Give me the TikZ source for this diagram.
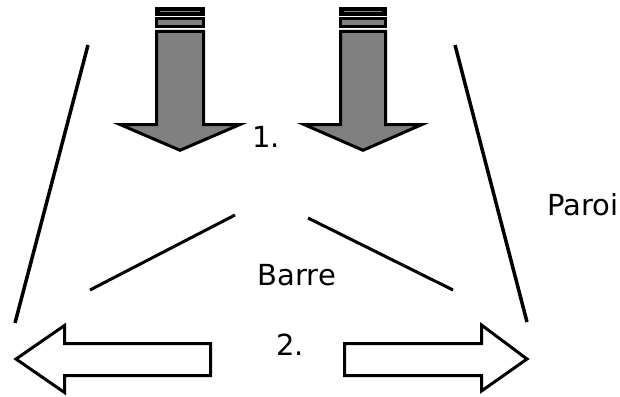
\documentclass[tikz,border=0pt]{standalone}
\usepackage{fontspec}
\setmainfont{DejaVu Sans}
\definecolor{shaftgray}{RGB}{128,128,128}
\begin{document}
\begin{tikzpicture}[x=1pt,y=1pt,
  wall/.style={black,line width=3.5pt},
  barre/.style={black,line width=3pt},
  pousse/.style={fill=shaftgray,draw=black,line width=3pt,line join=miter},
  ecarte/.style={fill=white,draw=black,line width=3pt,line join=miter},
  lbl/.style={inner sep=0pt,anchor=base,font=\fontsize{29}{32}\selectfont}]
\useasboundingbox (0,0) rectangle (620,-396);
% parois
\draw [wall] (88,-45) -- (15,-323);
\draw [wall] (455,-45) -- (527,-322);
% barre
\draw [barre] (235,-215) -- (90,-290);
\draw [barre] (308,-218) -- (453,-290);
% fleche 1, gauche
\fill [black] (155,-7) rectangle (205,-16);
\draw [shaftgray,line width=0.8pt] (160,-11.5) -- (200,-11.5);
\draw [pousse] (156.5,-18.5) rectangle (203.5,-26.5);
\draw [pousse] (156.5,-31.5) -- (156.5,-124.5) -- (120,-124.5) -- (180,-150.3)
  -- (240,-124.5) -- (203.5,-124.5) -- (203.5,-31.5) -- cycle;
% fleche 1, droite
\fill [black] (339,-7) rectangle (387,-16);
\draw [shaftgray,line width=0.8pt] (344,-11.5) -- (382,-11.5);
\draw [pousse] (340.5,-18.5) rectangle (385.5,-26.5);
\draw [pousse] (340.5,-31.5) -- (340.5,-124.5) -- (304,-124.5) -- (363,-150.3)
  -- (422,-124.5) -- (385.5,-124.5) -- (385.5,-31.5) -- cycle;
% fleches 2
\draw [ecarte] (16,-359) -- (64.5,-325.5) -- (64.5,-343.5) -- (210.5,-343.5)
  -- (210.5,-375.5) -- (64.5,-375.5) -- (64.5,-392.5) -- cycle;
\draw [ecarte] (527,-359) -- (481.5,-325) -- (481.5,-343.5) -- (344.5,-343.5)
  -- (344.5,-375.5) -- (481.5,-375.5) -- (481.5,-391) -- cycle;
% textes
\node [lbl] (un) at (266,-147) {1.};
\node [lbl] (deux) at (290,-355) {2.};
\node [lbl] (barretxt) at (297,-285) {Barre};
\node [lbl] (paroitxt) at (583,-215) {Paroi};
\end{tikzpicture}
\end{document}
